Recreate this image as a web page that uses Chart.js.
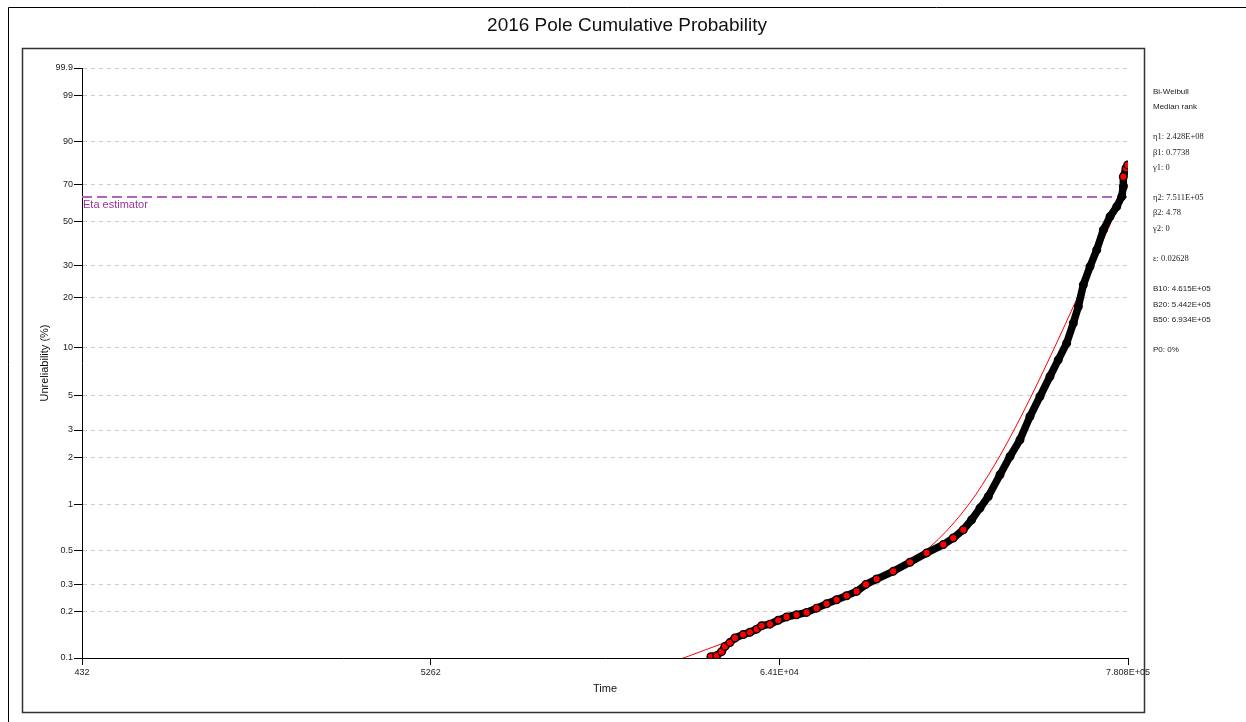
<!DOCTYPE html>
<html>
<head>
<meta charset="utf-8">
<title>2016 Pole Cumulative Probability</title>
<style>
  html, body { margin: 0; padding: 0; background: #fff; }
  #wrap { width: 1246px; height: 722px; position: relative; }
</style>
<script src="https://cdn.jsdelivr.net/npm/chart.js@4.4.1/dist/chart.umd.min.js"></script>
</head>
<body>
<div id="wrap"><canvas id="chart" width="1246" height="722"></canvas></div>
<script>
// Failure observations: time and median-rank unreliability (%)
const failureTimes = [39250, 40890, 42370, 43390, 44970, 46620, 49470, 51910, 54470, 56460,
  59930, 63580, 67520, 72540, 77950, 83740, 89960, 96660, 103800, 111550,
  119250, 128770, 145030, 163530, 184350, 207650, 223000, 239660, 254520, 270170,
  286750, 311850, 334960, 359840, 386620, 415420, 446140, 473580, 503020, 527560,
  546840, 566790, 594650, 624010, 654280, 686480, 720180, 746500, 755100, 755100,
  769800, 779200];
const failureUnreliability = [0.102, 0.1035, 0.110, 0.119, 0.126, 0.135, 0.142, 0.147, 0.154, 0.162,
  0.166, 0.176, 0.185, 0.191, 0.198, 0.211, 0.225, 0.239, 0.254, 0.271,
  0.301, 0.326, 0.366, 0.419, 0.482, 0.546, 0.602, 0.681, 0.791, 0.941,
  1.119, 1.545, 2.027, 2.595, 3.659, 4.907, 6.562, 8.347, 10.59, 14.01,
  17.60, 23.51, 29.70, 36.40, 45.70, 52.54, 57.92, 63.42, 68.90, 74.24,
  78.53, 80.14];

// Fitted Bi-Weibull curve: time and unreliability (%)
const fitTimes = [30000, 40000, 50000, 65000, 80000, 100000, 130000, 160000, 200000, 250000,
  300000, 350000, 400000, 450000, 500000, 550000, 600000, 650000, 700000, 750000, 780800];
const fitUnreliability = [0.0945, 0.1182, 0.1405, 0.1727, 0.2040, 0.2463, 0.3164, 0.4061, 0.5881, 1.0028,
  1.790, 3.180, 5.468, 8.981, 14.04, 20.90, 29.63, 40.03, 51.56, 63.38, 70.34];

// Axis ticks
const xTickValues = [432, 5262, 64092, 780800];
const xTickLabels = ['432', '5262', '6.41E+04', '7.808E+05'];
const yTickPercents = [0.1, 0.2, 0.3, 0.5, 1, 2, 3, 5, 10, 20, 30, 50, 70, 90, 99, 99.9];
const yTickLabels = ['0.1', '0.2', '0.3', '0.5', '1', '2', '3', '5', '10', '20', '30', '50', '70', '90', '99', '99.9'];

// Characteristic-life reference level (%)
const etaPercent = 63.21;

// Fit summary shown beside the plot (null = blank line; serif flag for Greek parameters)
const summaryLines = [
  ['Bi-Weibull', false], ['Median rank', false], null,
  ['\u03b71: 2.428E+08', true], ['\u03b21: 0.7738', true], ['\u03b31: 0', true], null,
  ['\u03b72: 7.511E+05', true], ['\u03b22: 4.78', true], ['\u03b32: 0', true], null,
  ['\u03b5: 0.02628', true], null,
  ['B10: 4.615E+05', false], ['B20: 5.442E+05', false], ['B50: 6.934E+05', false], null,
  ['P0: 0%', false]
];

// Weibull probability-paper transform: ln(-ln(1 - F))
const weib = p => Math.log(-Math.log(1 - p / 100));

const SANS = "'Liberation Sans', Arial, sans-serif";
const SERIF = "'Liberation Serif', 'Times New Roman', serif";

const pagePlugin = {
  id: 'pageDecor',
  beforeDraw(chart) {
    const ctx = chart.ctx;
    ctx.save();
    ctx.fillStyle = '#fff';
    ctx.fillRect(0, 0, chart.width, chart.height);
    // outer frame
    ctx.strokeStyle = '#000';
    ctx.lineWidth = 1;
    ctx.beginPath();
    ctx.moveTo(8.5, 722); ctx.lineTo(8.5, 7.5); ctx.lineTo(1246, 7.5);
    ctx.stroke();
    // plot panel frame
    ctx.strokeStyle = '#333';
    ctx.lineWidth = 1.5;
    ctx.strokeRect(22.5, 48.5, 1122, 664);
    ctx.restore();
  },
  afterDraw(chart) {
    const ctx = chart.ctx;
    const area = chart.chartArea;
    ctx.save();
    ctx.fillStyle = '#111';
    ctx.textAlign = 'center';
    ctx.textBaseline = 'middle';
    ctx.font = '19px ' + SANS;
    ctx.fillText('2016 Pole Cumulative Probability', 627, 26);

    ctx.font = '11px ' + SANS;
    ctx.fillText('Time', (area.left + area.right) / 2, 689);
    ctx.save();
    ctx.translate(45, (area.top + area.bottom) / 2);
    ctx.rotate(-Math.PI / 2);
    ctx.fillText('Unreliability (%)', 0, 0);
    ctx.restore();

    // label under the characteristic-life line
    const yEta = chart.scales.y.getPixelForValue(weib(etaPercent));
    ctx.textAlign = 'left';
    ctx.fillStyle = '#993399';
    ctx.font = '11px ' + SANS;
    ctx.fillText('Eta estimator', area.left + 1, yEta + 8);

    // fit summary
    ctx.fillStyle = '#222';
    let y = 91.5;
    summaryLines.forEach(line => {
      if (line) {
        ctx.font = (line[1] ? '8.5px ' + SERIF : '8px ' + SANS);
        ctx.fillText(line[0], 1153, y);
      }
      y += 15.2;
    });
    ctx.restore();
  }
};

const failurePoints = failureTimes.map((t, i) => ({ x: t, y: weib(failureUnreliability[i]) }));
const fitPoints = fitTimes.map((t, i) => ({ x: t, y: weib(fitUnreliability[i]) }));
const etaPoints = [{ x: xTickValues[0], y: weib(etaPercent) }, { x: xTickValues[xTickValues.length - 1], y: weib(etaPercent) }];

new Chart(document.getElementById('chart'), {
  type: 'scatter',
  data: {
    datasets: [
      {
        label: 'Failures',
        data: failurePoints,
        showLine: true,
        borderColor: '#000',
        borderWidth: 7.5,
        borderJoinStyle: 'round',
        borderCapStyle: 'round',
        pointRadius: 3.8,
        pointBorderWidth: 1.4,
        pointBorderColor: '#000',
        pointBackgroundColor: ctx => {
          const p = failureUnreliability[ctx.dataIndex];
          return (p < 0.72 || p > 74) ? '#ff0000' : '#000';
        }
      },
      {
        label: 'Bi-Weibull fit',
        data: fitPoints,
        showLine: true,
        borderColor: '#ff0000',
        borderWidth: 1,
        pointRadius: 0,
        cubicInterpolationMode: 'monotone'
      },
      {
        label: 'Eta estimator',
        data: etaPoints,
        showLine: true,
        borderColor: '#b066bd',
        borderWidth: 2,
        borderDash: [10, 5],
        pointRadius: 0
      }
    ]
  },
  options: {
    responsive: false,
    animation: false,
    devicePixelRatio: 1,
    layout: { padding: { top: 68, right: 118, bottom: 0, left: 0 } },
    plugins: {
      legend: { display: false },
      tooltip: { enabled: false },
      title: { display: false }
    },
    scales: {
      x: {
        type: 'logarithmic',
        min: xTickValues[0],
        max: xTickValues[xTickValues.length - 1],
        afterBuildTicks: s => { s.ticks = xTickValues.map(v => ({ value: v })); },
        afterFit: s => { s.height = 64; },
        ticks: {
          autoSkip: false, maxRotation: 0, minRotation: 0, padding: 2,
          color: '#222', font: { family: SANS, size: 9 },
          callback: (v, i) => xTickLabels[i]
        },
        grid: { drawOnChartArea: false, drawTicks: true, tickLength: 7, tickColor: '#000', color: '#000' },
        border: { display: true, color: '#000', width: 1 }
      },
      y: {
        type: 'linear',
        min: weib(yTickPercents[0]),
        max: weib(yTickPercents[yTickPercents.length - 1]),
        afterBuildTicks: s => { s.ticks = yTickPercents.map(p => ({ value: weib(p) })); },
        afterFit: s => { s.width = 82; },
        ticks: {
          autoSkip: false, padding: 1,
          color: '#222', font: { family: SANS, size: 9 },
          callback: (v, i) => yTickLabels[i]
        },
        grid: {
          color: ctx => (ctx.index === 0 ? 'rgba(0,0,0,0)' : '#cccccc'),
          tickColor: '#000', tickLength: 8, lineWidth: 1
        },
        border: { display: true, color: '#000', width: 1, dash: [4, 4] }
      }
    }
  },
  plugins: [pagePlugin]
});
</script>
</body>
</html>
